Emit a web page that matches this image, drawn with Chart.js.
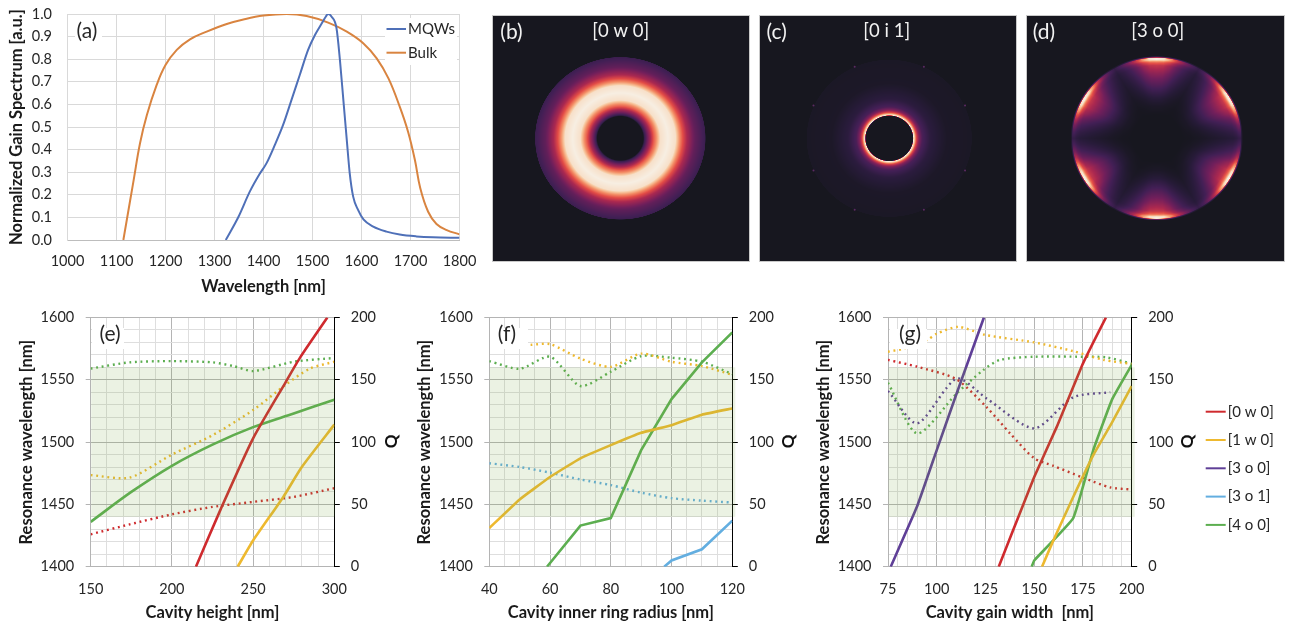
<!DOCTYPE html>
<html><head><meta charset="utf-8">
<script src="https://cdn.jsdelivr.net/npm/chart.js@4/dist/chart.umd.js"></script>
<style>
html,body{margin:0;padding:0;background:#fff;width:1289px;height:624px;overflow:hidden}
canvas{position:absolute;display:block}
</style></head><body>
<canvas id="a" width="480" height="300" style="left:0;top:0"></canvas>
<canvas id="b" width="258" height="247" style="left:492px;top:15px"></canvas>
<canvas id="c" width="258" height="247" style="left:759px;top:15px"></canvas>
<canvas id="d" width="259" height="247" style="left:1026px;top:15px"></canvas>
<canvas id="e" width="410" height="324" style="left:0;top:300px"></canvas>
<canvas id="f" width="400" height="324" style="left:410px;top:300px"></canvas>
<canvas id="g" width="479" height="324" style="left:810px;top:300px"></canvas>
<script>
// ---------- (a) gain spectra ----------
const mqwX=[1323,1349,1372,1392,1406,1423,1440,1457,1474,1491,1505,1519,1527,1532,1539,1549,1556,1563,1570,1576,1583,1593,1604,1624,1651,1678,1712,1746,1800];
const mqwY=[0,.103,.214,.292,.339,.42,.509,.619,.73,.841,.907,.959,.988,1,.988,.937,.796,.619,.442,.295,.192,.133,.091,.059,.037,.024,.016,.012,.01];
const bulkX=[1114,1128,1135,1148,1162,1182,1200,1223,1250,1284,1325,1359,1400,1447,1488,1532,1570,1604,1631,1655,1678,1695,1709,1720,1736,1753,1774,1800];
const bulkY=[0,.177,.265,.428,.553,.686,.774,.841,.888,.922,.956,.976,.993,1,.991,.962,.922,.87,.804,.715,.59,.479,.354,.229,.125,.071,.044,.025];
// ---------- (e) cavity height ----------
const eRed0X=[214.8,230,250,270,279,295.7];      const eRed0Y=[1400,1446,1503,1548,1568,1600];
const eYel1X=[240.5,250,268.6,280,300];          const eYel1Y=[1400,1421,1456,1480,1514];
const eGrn4X=[150,175,200,225,250,275,300];      const eGrn4Y=[1436,1460,1481,1498,1512,1523,1534];
const eRedQX=[150,174,200,225,250,275,300];      const eRedQY=[26,34,42,48,52,56,63];
const eYelQX=[150,174,200,225,250,270,285,300];  const eYelQY=[73.5,71.5,90,105.5,125.7,146,159,164.5];
const eGrnQX=[150,174,200,225,238,250,275,300];  const eGrnQY=[159,164,165,164,161,157,164.5,167.5];
// ---------- (f) inner ring radius ----------
const fYel1X=[40,50,60,70,80,90,100,110,120];    const fYel1Y=[1431,1454,1472,1487,1497.6,1507.5,1513.6,1522,1527];
const fBlu1X=[97.6,100,110,120];                 const fBlu1Y=[1400,1405,1414,1437];
const fGrn4X=[59,70,80,90,100,110,120];          const fGrn4Y=[1400,1433,1439,1493.5,1534.5,1564,1588];
const fYelQX=[53.6,60,70,80,90,100,110,120];     const fYelQY=[178,178.6,167,160.4,171,164.5,161,154];
const fBluQX=[40,50,60,70,80,90,100,110,120];    const fBluQY=[83,80,75.5,70,65.5,59.4,55,53,51.5];
const fGrnQX=[40,50,60,70,80,90,100,110,120];    const fGrnQY=[165,158.8,168.5,145,156.5,169,167.7,164.5,154.6];
// ---------- (g) gain width ----------
const gRed0X=[131.8,144.4,150,161.5,174.7,180.3,186.8]; const gRed0Y=[1400,1450,1472,1512,1562,1580,1600];
const gYel1X=[154,159.8,170,180.3,190,200];      const gYel1Y=[1400,1421,1456,1489.6,1516,1545];
const gPur3X=[76.4,90,100,110.2,124.2];          const gPur3Y=[1400,1448.7,1493.6,1539,1600];
const gGrn4X=[148.7,150,170,180.3,190,200];      const gGrn4Y=[1400,1405,1439,1493.6,1534.5,1562];
const gRedQX=[75,90,110,125.6,137.6,150,159.8,175,189,200]; const gRedQY=[166,160.5,150.5,128,107,87,81,71.5,63.6,62];
const gYelQX=[75,83,95,100,111,125,150,170,185.5,200];      const gYelQY=[172.5,175,182,187,192.5,186,180,173,166,162.7];
const gPurQX=[75,90,110.2,125.6,150,170,189];    const gPurQY=[141,115,151,135,111,136,140];
const gGrnQX=[75,90,110.2,124,132.5,150,175,187,200];       const gGrnQY=[147.6,107,139,158,166,168.5,168.5,168,163];
// ---------- (b)(c)(d) mode maps: tabulated profile on a disc of radius 1 ----------
const colormapLevels=[0,.12,.25,.4,.55,.7,.82,.92,1];
const colormapRGB=[[23,23,31],[40,27,58],[66,31,85],[113,31,91],[170,40,80],[226,75,70],[243,140,100],[247,200,160],[247,238,226]];
const bRadii=[0,.27,.285,.32,.355,.39,.47,.56,.65,.73,.785,.88,1,1.005];
const bLevels=[0,0,.2,.4,.55,.72,.97,1,.97,.72,.55,.35,.22,0];
const cRadii=[0,.285,.295,.31,.33,.36,.4,.5,.7,1,1.005];
const cLevels=[0,0,1,.9,.68,.45,.28,.14,.04,.03,0];
const cDotsX=[-.42,.42,-.92,.92,-.92,.92,-.42,.42];
const cDotsY=[.913,.913,.42,.42,-.41,-.41,-.913,-.913];
const dRadii=[0,.29,.4,.5,.6,.7,.8,.9,.94,.97,.99,1,1.015];
const dLevels=[0,0,.04,.12,.24,.36,.48,.62,.78,1,1,.45,0];
const dLobeDeg=[0,5,10,15,20,25,30];
const dLobeLevels=[1,.97,.82,.6,.42,.28,.18];
const flatLobeDeg=[0,30];
const flatLobeLevels=[1,1];

const FONT='Lato, Carlito, sans-serif';
const COL={red:'#cf2a2e',yel:'#eeb92f',pur:'#5f3f97',blu:'#63aee0',grn:'#5cae50',mqw:'#4f70b8',bulk:'#d98440'};
const MAJOR='#b4b4b4',MINOR='#dedede',TXT='#262626';
const pts=(xs,ys)=>xs.map((x,i)=>({x,y:ys[i]}));
const lerp=(xs,ys,v)=>{
  if(v<=xs[0])return ys[0];
  for(let i=1;i<xs.length;i++) if(v<=xs[i]) return ys[i-1]+(ys[i]-ys[i-1])*(v-xs[i-1])/(xs[i]-xs[i-1]);
  return ys[ys.length-1];
};
const solid=(label,color,xs,ys,tension,legend=true)=>({label,data:pts(xs,ys),borderColor:color,backgroundColor:color,borderWidth:2.6,pointRadius:0,tension,yAxisID:'y',inLegend:legend});
const dotted=(label,color,xs,ys)=>({label:label+' Q',data:pts(xs,ys),borderColor:color,backgroundColor:color,borderWidth:2.4,borderDash:[1.9,3.7],pointRadius:0,tension:.25,yAxisID:'q',inLegend:false});

function overlay(o){return{id:'overlay',afterDatasetsDraw(chart){
  const c=chart.ctx,A=chart.chartArea;c.save();
  if(o.band){
    const y=chart.scales.y,t=y.getPixelForValue(o.band[1]),b=y.getPixelForValue(o.band[0]);
    c.fillStyle='rgba(120,165,70,0.15)';c.fillRect(A.left+.5,t,A.right-A.left+(o.bandExtra||0),b-t);
  }
  c.fillStyle='#fff';(o.patches||[]).forEach(p=>c.fillRect(p[0],p[1],p[2],p[3]));
  c.fillStyle=TXT;c.textBaseline='middle';c.textAlign='center';
  c.font='21px '+FONT;c.fillText(o.tag[0],o.tag[1],o.tag[2]);
  if(o.q){c.save();c.translate(o.q[0],o.q[1]);c.rotate(-Math.PI/2);c.font='bold 17px '+FONT;c.fillStyle='#111';c.fillText('Q',0,0);c.restore();}
  if(o.legend){
    const L=o.legend;let row=0;
    chart.data.datasets.filter(d=>d.inLegend).forEach(d=>{
      const y=L.y+row*L.dy;row++;
      c.strokeStyle=d.borderColor;c.lineWidth=2;c.beginPath();c.moveTo(L.x,y);c.lineTo(L.x+L.w,y);c.stroke();
      c.fillStyle=TXT;c.textAlign='left';c.font=L.size+'px '+FONT;c.fillText(d.label,L.x+L.w+2,y);
    });
  }
  c.restore();
}};}

const noEdgePadding=s=>{s.paddingTop=0;s.paddingBottom=0;s.paddingLeft=0;s.paddingRight=0;};
function xyChart(id,cfg){
  const P=cfg.plot,cv=document.getElementById(id),W=cv.width,H=cv.height;
  const tickFont={family:FONT,size:14.5},titleFont={family:FONT,size:16.5,weight:'bold'};
  const isMajorY=c=>c.tick&&Math.abs(c.tick.value/cfg.yMajor-Math.round(c.tick.value/cfg.yMajor))<1e-6;
  const scales={
    x:{type:'linear',min:cfg.xMin,max:cfg.xMax,
      afterFit:s=>{s.height=H-P.bottom;noEdgePadding(s);},
      ticks:{stepSize:cfg.xMinor,autoSkip:false,maxRotation:0,minRotation:0,padding:cfg.xPad,color:TXT,font:tickFont,
        callback:v=>v%cfg.xMajor===0?String(v):''},
      grid:{drawTicks:false,color:c=>c.tick&&c.tick.value%cfg.xMajor===0?cfg.majCol:cfg.minCol,lineWidth:1},
      border:{color:cfg.axisCol||cfg.majCol},
      title:{display:true,text:cfg.xTitle,color:'#1a1a1a',font:titleFont,padding:{top:0,bottom:cfg.xTitlePad}}},
    y:{type:'linear',position:'left',min:cfg.yMin,max:cfg.yMax,
      afterFit:s=>{s.width=P.left;noEdgePadding(s);},
      ticks:{stepSize:cfg.yMinor,autoSkip:false,padding:cfg.yPad,color:TXT,font:tickFont,
        callback:v=>Math.abs(v/cfg.yMajor-Math.round(v/cfg.yMajor))<1e-6?cfg.yFmt(v):''},
      grid:{drawTicks:cfg.yTick>0,tickLength:cfg.yTick,
        tickColor:c=>isMajorY(c)?cfg.majCol:'rgba(0,0,0,0)',
        color:c=>isMajorY(c)?cfg.majCol:cfg.minCol,lineWidth:1},
      border:{color:cfg.majCol},
      title:{display:true,text:cfg.yTitle,color:'#1a1a1a',font:titleFont,padding:{top:cfg.yTitlePad,bottom:0}}}
  };
  if(cfg.right){
    scales.q={type:'linear',position:'right',min:0,max:200,
      afterFit:s=>{s.width=W-P.right;noEdgePadding(s);},
      ticks:{stepSize:50,autoSkip:false,padding:11,color:TXT,font:tickFont},
      grid:{drawOnChartArea:false,drawTicks:true,tickLength:5.5,tickColor:'#000'},
      border:{display:true,color:'#000',width:1}};
  }
  return new Chart(cv,{type:'line',data:{datasets:cfg.datasets},
    options:{responsive:false,animation:false,devicePixelRatio:1,parsing:true,
      layout:{padding:{top:P.top,left:0,right:cfg.right?0:W-P.right,bottom:0}},
      plugins:{legend:{display:false},title:{display:false},tooltip:{enabled:false}},
      scales},
    plugins:[overlay(cfg.overlay)]});
}

const wlFmt=v=>String(v);
xyChart('a',{plot:{left:67.5,right:459.5,top:14,bottom:240},xMin:1000,xMax:1800,xMajor:100,xMinor:100,yMin:0,yMax:1,yMajor:.1,yMinor:.1,
  yFmt:v=>v.toFixed(1),xTitle:'Wavelength [nm]',yTitle:'Normalized Gain Spectrum [a.u.]',majCol:'#d9d9d9',minCol:'#d9d9d9',axisCol:'#bdbdbd',
  xPad:13,yPad:15.5,yTick:0,xTitlePad:3.5,yTitlePad:7,right:false,
  datasets:[
    {label:'MQWs',data:pts(mqwX,mqwY),borderColor:COL.mqw,borderWidth:2,pointRadius:0,cubicInterpolationMode:'monotone',inLegend:true},
    {label:'Bulk',data:pts(bulkX,bulkY),borderColor:COL.bulk,borderWidth:2,pointRadius:0,tension:.4,inLegend:true}],
  overlay:{tag:['(a)',87,31],patches:[[75,20,27,22],[385,18,72,47]],legend:{x:386.5,y:29,dy:23.7,w:19.5,size:15}}});

xyChart('e',{plot:{left:90.7,right:334.3,top:17.5,bottom:266.7},xMin:150,xMax:300,xMajor:50,xMinor:10,yMin:1400,yMax:1600,yMajor:50,yMinor:10,
  yFmt:wlFmt,xTitle:'Cavity height [nm]',yTitle:'Resonance wavelength [nm]',majCol:MAJOR,minCol:MINOR,
  xPad:14,yPad:11.5,yTick:5,xTitlePad:1.5,yTitlePad:17,right:true,
  datasets:[
    solid('[0 w 0]',COL.red,eRed0X,eRed0Y,.2),solid('[1 w 0]',COL.yel,eYel1X,eYel1Y,.2),solid('[4 o 0]',COL.grn,eGrn4X,eGrn4Y,.3),
    dotted('[0 w 0]',COL.red,eRedQX,eRedQY),dotted('[1 w 0]',COL.yel,eYelQX,eYelQY),dotted('[4 o 0]',COL.grn,eGrnQX,eGrnQY)],
  overlay:{tag:['(e)',110,34],band:[1440,1560],patches:[[92,28,32,21]],q:[391.5,141.5]}});

xyChart('f',{plot:{left:79.3,right:322.3,top:17.5,bottom:266.7},xMin:40,xMax:120,xMajor:20,xMinor:5,yMin:1400,yMax:1600,yMajor:50,yMinor:10,
  yFmt:wlFmt,xTitle:'Cavity inner ring radius [nm]',yTitle:'Resonance wavelength [nm]',majCol:MAJOR,minCol:MINOR,
  xPad:14,yPad:11.5,yTick:5,xTitlePad:1.5,yTitlePad:5,right:true,
  datasets:[
    solid('[1 w 0]',COL.yel,fYel1X,fYel1Y,.1),solid('[3 o 1]',COL.blu,fBlu1X,fBlu1Y,0),solid('[4 o 0]',COL.grn,fGrn4X,fGrn4Y,0),
    dotted('[1 w 0]',COL.yel,fYelQX,fYelQY),dotted('[3 o 1]',COL.blu,fBluQX,fBluQY),dotted('[4 o 0]',COL.grn,fGrnQX,fGrnQY)],
  overlay:{tag:['(f)',97,34],band:[1440,1560],bandExtra:2.5,patches:[[80,28,38,21]],q:[379,141.5]}});

xyChart('g',{plot:{left:78,right:321.7,top:17.5,bottom:266.7},xMin:75,xMax:200,xMajor:25,xMinor:5,yMin:1400,yMax:1600,yMajor:50,yMinor:10,
  yFmt:wlFmt,xTitle:'Cavity gain width  [nm]',yTitle:'Resonance wavelength [nm]',majCol:MAJOR,minCol:MINOR,
  xPad:14,yPad:11.5,yTick:5,xTitlePad:1.5,yTitlePad:4,right:true,
  datasets:[
    solid('[0 w 0]',COL.red,gRed0X,gRed0Y,.1),solid('[1 w 0]',COL.yel,gYel1X,gYel1Y,.1),solid('[3 o 0]',COL.pur,gPur3X,gPur3Y,.1),
    solid('[3 o 1]',COL.blu,[],[],0),solid('[4 o 0]',COL.grn,gGrn4X,gGrn4Y,.1),
    dotted('[0 w 0]',COL.red,gRedQX,gRedQY),dotted('[1 w 0]',COL.yel,gYelQX,gYelQY),dotted('[3 o 0]',COL.pur,gPurQX,gPurQY),dotted('[4 o 0]',COL.grn,gGrnQX,gGrnQY)],
  overlay:{tag:['(g)',100,34],band:[1440,1560],bandExtra:2.5,patches:[[80,29,37,20]],q:[378,141.5],legend:{x:395.7,y:111.7,dy:28.3,w:20,size:15}}});

function heat(o){return{id:'heat',beforeDatasetsDraw(chart){
  const c=chart.ctx,W=chart.width,H=chart.height,X=chart.scales.x,Y=chart.scales.y,img=c.createImageData(W,H),D=img.data;
  const rs=colormapRGB.map(v=>v[0]),gs=colormapRGB.map(v=>v[1]),bs=colormapRGB.map(v=>v[2]);
  for(let j=0;j<H;j++)for(let i=0;i<W;i++){
    const u=X.getValueForPixel(i+.5),v=Y.getValueForPixel(j+.5),r=Math.hypot(u,v);
    let deg=Math.abs(((Math.atan2(v,u)*180/Math.PI-30)%60+60)%60);if(deg>30)deg=60-deg;
    const L=lerp(o.radii,o.levels,r)*lerp(o.lobeDeg,o.lobeLevels,deg),k=(j*W+i)*4;
    D[k]=lerp(colormapLevels,rs,L);D[k+1]=lerp(colormapLevels,gs,L);D[k+2]=lerp(colormapLevels,bs,L);D[k+3]=255;
  }
  c.putImageData(img,0,0);
  c.strokeStyle='#c9c9c9';c.lineWidth=1;c.strokeRect(.5,.5,W-1,H-1);
},afterDatasetsDraw(chart){
  const c=chart.ctx;c.save();c.fillStyle='#f2f2f2';c.textAlign='center';c.textBaseline='middle';
  c.font='21px '+FONT;c.fillText(o.tag,o.tagX,17);
  c.font='18.5px '+FONT;c.fillText(o.title,o.titleX,16);c.restore();
}};}
function mapChart(id,o){
  const cv=document.getElementById(id),R=[85,81];
  const x0=(0-o.cx)/R[0],x1=(cv.width-o.cx)/R[0],y1=o.cy/R[1],y0=(o.cy-cv.height)/R[1];
  return new Chart(cv,{type:'scatter',
    data:{datasets:[{label:o.title,data:o.dotsX?pts(o.dotsX,o.dotsY):[],pointRadius:1,pointBorderWidth:0,pointBackgroundColor:'#5c2a62'}]},
    options:{responsive:false,animation:false,devicePixelRatio:1,layout:{padding:0},
      plugins:{legend:{display:false},tooltip:{enabled:false}},
      scales:{x:{type:'linear',display:false,min:x0,max:x1},y:{type:'linear',display:false,min:y0,max:y1}}},
    plugins:[heat(o)]});
}
mapChart('b',{cx:128.3,cy:123.3,radii:bRadii,levels:bLevels,lobeDeg:flatLobeDeg,lobeLevels:flatLobeLevels,tag:'(b)',tagX:19.5,title:'[0 w 0]',titleX:128.7});
mapChart('c',{cx:130.3,cy:123.3,radii:cRadii,levels:cLevels,lobeDeg:flatLobeDeg,lobeLevels:flatLobeLevels,tag:'(c)',tagX:17.7,title:'[0 i 1]',titleX:127.7,dotsX:cDotsX,dotsY:cDotsY});
mapChart('d',{cx:130.7,cy:123.3,radii:dRadii,levels:dLevels,lobeDeg:dLobeDeg,lobeLevels:dLobeLevels,tag:'(d)',tagX:18,title:'[3 o 0]',titleX:131.7});
</script>
</body></html>
